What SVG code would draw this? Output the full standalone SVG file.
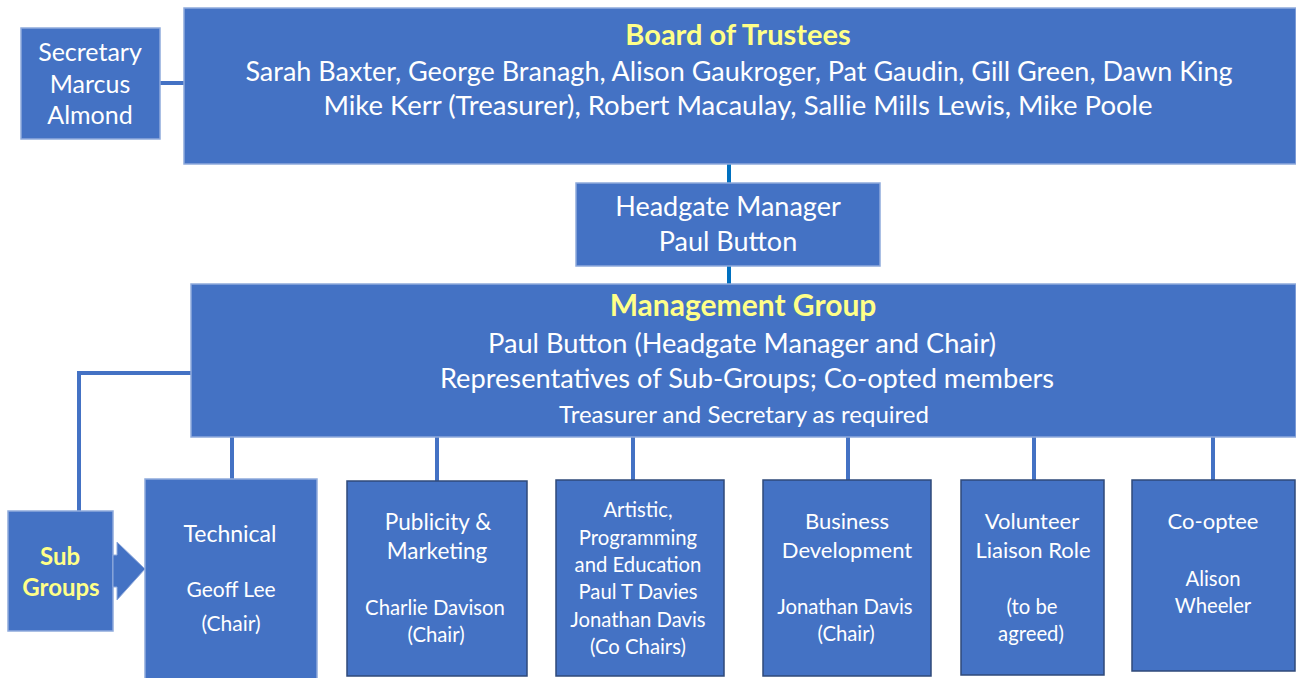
<svg xmlns="http://www.w3.org/2000/svg" width="1296" height="678" viewBox="0 0 1296 678">
<style>
.box{fill:#4472C4;stroke:#8FAADC;stroke-width:1.5}
.sub{fill:#4472C4;stroke:#2F4A7A;stroke-width:1.5}
.t{font-family:Lato,"Liberation Sans",sans-serif;fill:#FFFFFF;text-anchor:middle}
.y{font-family:Lato,"Liberation Sans",sans-serif;fill:#FFFF88;text-anchor:middle;font-weight:bold}
.c{fill:none;stroke:#4472C4;stroke-width:4}
.c2{fill:none;stroke:#0070C0;stroke-width:4}
</style>
<rect width="1296" height="678" fill="#FFFFFF"/>
<g id="connectors">
<line class="c" x1="160" y1="83" x2="196" y2="83"/>
<line class="c2" x1="729" y1="140" x2="729" y2="184"/>
<line class="c2" x1="729" y1="266" x2="729" y2="296"/>
<polyline class="c" points="79,511 79,373 192,373"/>
<line class="c" x1="232" y1="437" x2="232" y2="480"/>
<line class="c" x1="437" y1="437" x2="437" y2="481"/>
<line class="c" x1="633" y1="437" x2="633" y2="480"/>
<line class="c" x1="848" y1="437" x2="848" y2="480"/>
<line class="c" x1="1034" y1="437" x2="1034" y2="480"/>
<line class="c" x1="1213" y1="437" x2="1213" y2="480"/>
</g>
<g id="board">
<rect class="box" x="184" y="8" width="1112" height="156"/>
<text class="y" x="738" y="45" font-size="29">Board of Trustees</text>
<text class="t" x="739" y="81" font-size="27">Sarah Baxter, George Branagh, Alison Gaukroger, Pat Gaudin, Gill Green, Dawn King</text>
<text class="t" x="738" y="115" font-size="27.5">Mike Kerr (Treasurer), Robert Macaulay, Sallie Mills Lewis, Mike Poole</text>
</g>
<g id="secretary">
<rect class="box" x="21" y="28" width="139" height="111"/>
<text class="t" x="90" y="61" font-size="25">Secretary</text>
<text class="t" x="90" y="93" font-size="25">Marcus</text>
<text class="t" x="90" y="124" font-size="25">Almond</text>
</g>
<g id="headgate">
<rect class="box" x="576" y="183" width="304" height="83"/>
<text class="t" x="728" y="216" font-size="27">Headgate Manager</text>
<text class="t" x="728" y="251" font-size="27">Paul Button</text>
</g>
<g id="management">
<rect class="box" x="191" y="284" width="1105" height="153"/>
<text class="y" x="743" y="316" font-size="30">Management Group</text>
<text class="t" x="742" y="353" font-size="27.2">Paul Button (Headgate Manager and Chair)</text>
<text class="t" x="747" y="388" font-size="27.2">Representatives of Sub-Groups; Co-opted members</text>
<text class="t" x="744" y="423" font-size="24">Treasurer and Secretary as required</text>
</g>
<g id="subgroups">
<rect class="box" x="8" y="511" width="105" height="120"/>
<path d="M113,555 L117,555 L117,542 L145,569 L117,600 L117,587 L113,587 Z" fill="#4472C4" stroke="#8FAADC" stroke-width="1"/>
<text class="y" x="60" y="565" font-size="24">Sub</text>
<text class="y" x="61" y="596" font-size="24">Groups</text>
</g>
<g id="technical">
<rect class="box" x="145" y="479" width="172" height="200"/>
<text class="t" x="230" y="542" font-size="23">Technical</text>
<text class="t" x="231" y="597" font-size="21">Geoff Lee</text>
<text class="t" x="231" y="631" font-size="21">(Chair)</text>
</g>
<g id="publicity">
<rect class="sub" x="347" y="481" width="180" height="195"/>
<text class="t" x="438" y="530" font-size="22.5">Publicity &amp;</text>
<text class="t" x="437" y="559" font-size="22.5">Marketing</text>
<text class="t" x="435" y="615" font-size="20.3">Charlie Davison</text>
<text class="t" x="436" y="642" font-size="20.3">(Chair)</text>
</g>
<g id="artistic">
<rect class="sub" x="556" y="480" width="168" height="196"/>
<text class="t" x="638" y="517" font-size="20.3">Artistic,</text>
<text class="t" x="638" y="545" font-size="20.3">Programming</text>
<text class="t" x="638" y="572" font-size="20.3">and Education</text>
<text class="t" x="638" y="599" font-size="20.3">Paul T Davies</text>
<text class="t" x="638" y="627" font-size="20.3">Jonathan Davis</text>
<text class="t" x="638" y="654" font-size="20.3">(Co Chairs)</text>
</g>
<g id="business">
<rect class="sub" x="763" y="480" width="168" height="196"/>
<text class="t" x="847" y="529" font-size="22">Business</text>
<text class="t" x="847" y="558" font-size="22">Development</text>
<text class="t" x="845" y="614" font-size="20.3">Jonathan Davis</text>
<text class="t" x="846" y="641" font-size="20.3">(Chair)</text>
</g>
<g id="volunteer">
<rect class="sub" x="961" y="480" width="143" height="195"/>
<text class="t" x="1032" y="529" font-size="22">Volunteer</text>
<text class="t" x="1033" y="558" font-size="22">Liaison Role</text>
<text class="t" x="1032" y="614" font-size="20.3">(to be</text>
<text class="t" x="1031" y="641" font-size="20.3">agreed)</text>
</g>
<g id="cooptee">
<rect class="sub" x="1132" y="480" width="163" height="191"/>
<text class="t" x="1213" y="529" font-size="22">Co-optee</text>
<text class="t" x="1213" y="586" font-size="20.3">Alison</text>
<text class="t" x="1213" y="613" font-size="20.3">Wheeler</text>
</g>
</svg>
